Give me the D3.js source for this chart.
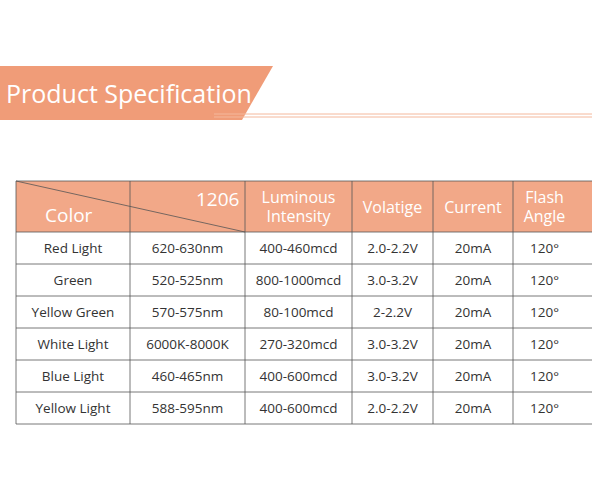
<!DOCTYPE html>
<html><head><meta charset="utf-8">
<script src="https://cdn.jsdelivr.net/npm/d3@7"></script>
<style>body{margin:0;background:#fff}</style>
</head><body>
<svg id="chart" width="592" height="500"></svg>
<script>
// Table content
const columns = ["Color", "1206", "Luminous|Intensity", "Volatige", "Current", "Flash|Angle"];
const colors = ["Red Light", "Green", "Yellow Green", "White Light", "Blue Light", "Yellow Light"];
const wavelength = ["620-630nm", "520-525nm", "570-575nm", "6000K-8000K", "460-465nm", "588-595nm"];
const intensity = ["400-460mcd", "800-1000mcd", "80-100mcd", "270-320mcd", "400-600mcd", "400-600mcd"];
const voltage = ["2.0-2.2V", "3.0-3.2V", "2-2.2V", "3.0-3.2V", "3.0-3.2V", "2.0-2.2V"];
const current = ["20mA", "20mA", "20mA", "20mA", "20mA", "20mA"];
const angle = ["120°", "120°", "120°", "120°", "120°", "120°"];

const svg = d3.select("#chart");
const font = "'Open Sans', sans-serif";

// Banner
svg.append("path").attr("d", "M0,66 L273,66 L242,120 L0,120 Z").attr("fill", "#F09C78");
svg.append("text").attr("x", 6).attr("y", 103).attr("fill", "#fff")
    .attr("font-family", font).attr("font-size", 25).text("Product Specification");
svg.append("line").attr("x1", 214).attr("x2", 592).attr("y1", 114).attr("y2", 114)
    .attr("stroke", "#F4B89C").attr("stroke-width", 1);
svg.append("line").attr("x1", 214).attr("x2", 592).attr("y1", 117).attr("y2", 117)
    .attr("stroke", "#F4B89C").attr("stroke-width", 1);

// Table geometry
const edges = [16, 130, 245, 352, 433, 513, 600];
const tableTop = 181, headH = 51, rowH = 32;
const rows = colors.map((c, i) => [c, wavelength[i], intensity[i], voltage[i], current[i], angle[i]]);
const y = d3.scaleBand().domain(d3.range(rows.length))
    .range([tableTop + headH, tableTop + headH + rowH * rows.length]);

// Header
svg.append("rect").attr("x", edges[0]).attr("y", tableTop).attr("width", 592 - edges[0])
    .attr("height", headH).attr("fill", "#F2A888");
svg.append("line").attr("x1", edges[0]).attr("y1", tableTop).attr("x2", edges[2]).attr("y2", tableTop + headH)
    .attr("stroke", "#555").attr("stroke-width", 0.8);
svg.append("text").attr("x", 45).attr("y", 222).attr("fill", "#fff").attr("font-family", font)
    .attr("font-size", 19).text(columns[0]);
svg.append("text").attr("x", 196).attr("y", 206).attr("fill", "#fff").attr("font-family", font)
    .attr("font-size", 19).text(columns[1]);
columns.slice(2).forEach((c, i) => {
    const cx = (edges[i + 2] + Math.min(edges[i + 3], 592)) / 2 - (i === 3 ? 8 : 0);
    const lines = c.split("|");
    const t = svg.append("text").attr("text-anchor", "middle").attr("fill", "#fff")
        .attr("font-family", font).attr("font-size", 16);
    lines.forEach((l, j) => t.append("tspan").attr("x", cx)
        .attr("y", tableTop + headH / 2 + 6 + (j - (lines.length - 1) / 2) * 19).text(l));
});

// Body rows
rows.forEach((r, i) => {
    r.forEach((v, j) => {
        svg.append("text").attr("x", (edges[j] + Math.min(edges[j + 1], 592)) / 2 - (j === 5 ? 8 : 0))
            .attr("y", y(i) + rowH / 2 + 5).attr("text-anchor", "middle")
            .attr("font-family", font).attr("font-size", 13.5).attr("fill", "#333").text(v);
    });
});

// Grid lines
const bottom = tableTop + headH + rowH * rows.length;
edges.forEach(x => svg.append("line").attr("x1", x).attr("x2", x).attr("y1", tableTop).attr("y2", bottom)
    .attr("stroke", "#555").attr("stroke-width", 0.8));
d3.range(rows.length + 2).forEach(k => {
    const yy = k === 0 ? tableTop : tableTop + headH + rowH * (k - 1);
    svg.append("line").attr("x1", edges[0]).attr("x2", 592).attr("y1", yy).attr("y2", yy)
        .attr("stroke", "#555").attr("stroke-width", 0.8);
});
</script>
</body></html>
